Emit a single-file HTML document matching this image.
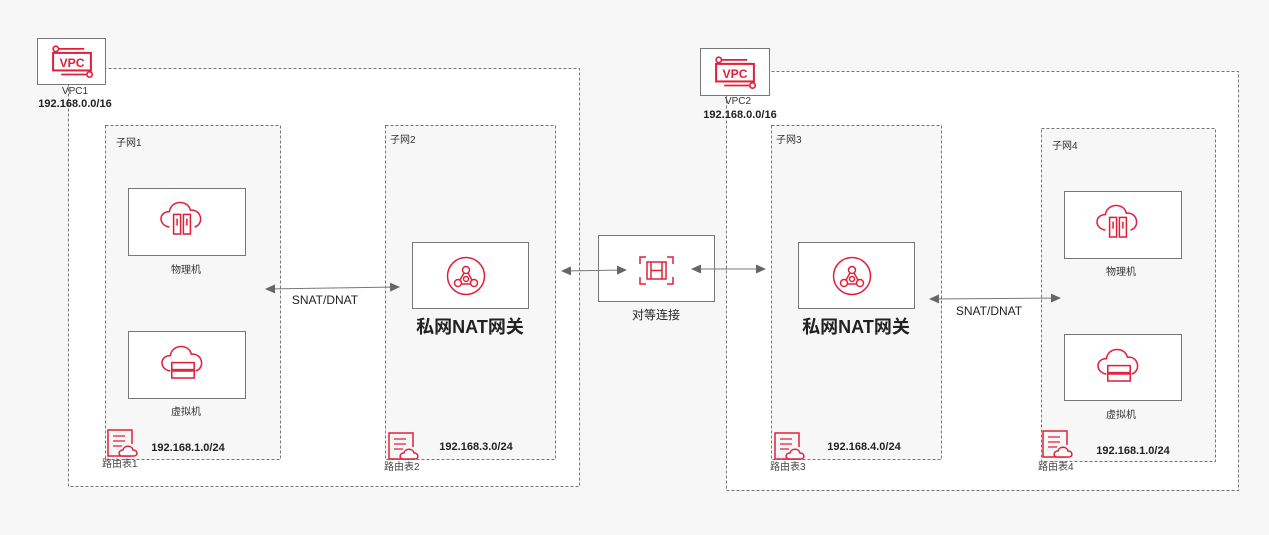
<!DOCTYPE html>
<html><head><meta charset="utf-8"><style>
html,body{margin:0;padding:0;background:#f7f7f7;}
svg{display:block;font-family:"Liberation Sans","Noto Sans CJK SC",sans-serif;}
</style></head><body>
<svg width="1269" height="535" viewBox="0 0 1269 535" xmlns="http://www.w3.org/2000/svg">
<defs>
<marker id="ah" viewBox="0 0 10 10" refX="9" refY="5" markerWidth="10" markerHeight="10" orient="auto-start-reverse"><path d="M0,0.5 L10,5 L0,9.5 z" fill="#666"/></marker>
<g id="vpc"><path d="M-11,-9 H9" stroke="#e0203a" stroke-width="1.3" fill="none"/><circle cx="-12" cy="-9" r="2" fill="#fff" stroke="#e0203a" stroke-width="1.2"/>
<rect x="-14" y="-6" width="28" height="13" fill="none" stroke="#e0203a" stroke-width="1.5"/>
<text x="0" y="4.5" font-size="9" font-weight="bold" fill="#e0203a" text-anchor="middle">VPC</text>
<path d="M-8,10 H12" stroke="#e0203a" stroke-width="1.3"/><circle cx="13" cy="10" r="2" fill="#fff" stroke="#e0203a" stroke-width="1.2"/></g>
<g id="phy" fill="none" stroke="#e0203a" stroke-width="1.1"><path d="M-9,5 C-17,4 -17,-6 -9,-6 C-8,-14 4,-15 6,-7 C14,-8 16,3 9,5"/><rect x="-6" y="-4" width="5" height="14" fill="#fff"/><rect x="1" y="-4" width="5" height="14" fill="#fff"/><path d="M-3.5,-1v5M3.5,-1v5"/></g>
<g id="vm" fill="none" stroke="#e0203a" stroke-width="1.1"><path d="M-9,5 C-17,4 -17,-6 -9,-6 C-8,-14 4,-15 6,-7 C14,-8 16,3 9,5"/><rect x="-8" y="-1" width="16" height="5" fill="#fff"/><rect x="-8" y="5" width="16" height="5" fill="#fff"/></g>
<g id="nat" fill="none" stroke="#e0203a" stroke-width="1.5"><circle r="18.5"/><circle cx="0" cy="-6" r="3.5"/><circle cx="-8" cy="7" r="3.5"/><circle cx="8" cy="7" r="3.5"/><circle cx="0" cy="3" r="2.5"/><path d="M-2,-3 L-6,4M2,-3L6,4M-4,8H4"/></g>
<g id="rt" fill="none" stroke="#e0203a" stroke-width="1.5"><path d="M10,20 V26 H-12 V0 H12 V14"/><path d="M-7,6H5M-7,11H5M-7,16H2" stroke-width="1.2"/><path d="M2,26 C-2,26 -2,20 3,20 C4,15 12,15 13,20 C18,20 18,26 14,26 Z" fill="#fff"/></g>
</defs>

<rect x="68.5" y="68.5" width="511" height="418" fill="#fff" stroke="#777" stroke-dasharray="3,2"/>
<rect x="726.5" y="71.5" width="512" height="419" fill="#fff" stroke="#777" stroke-dasharray="3,2"/>

<rect x="105.5" y="125.5" width="175" height="334" fill="#f7f7f7" stroke="#777" stroke-dasharray="3,2"/>
<rect x="385.5" y="125.5" width="170" height="334" fill="#f7f7f7" stroke="#777" stroke-dasharray="3,2"/>
<rect x="771.5" y="125.5" width="170" height="334" fill="#f7f7f7" stroke="#777" stroke-dasharray="3,2"/>
<rect x="1041.5" y="128.5" width="174" height="333" fill="#f7f7f7" stroke="#777" stroke-dasharray="3,2"/>

<rect x="37.5" y="38.5" width="68" height="46" fill="#fff" stroke="#777"/><use href="#vpc" transform="translate(72,61) scale(1.35)"/>
<text x="75" y="94" font-size="10" fill="#333" text-anchor="middle">VPC1</text>
<text x="75" y="107" font-size="11" font-weight="bold" fill="#222" text-anchor="middle">192.168.0.0/16</text>
<rect x="700.5" y="48.5" width="69" height="47" fill="#fff" stroke="#777"/><use href="#vpc" transform="translate(735,72) scale(1.35)"/>
<text x="738" y="104" font-size="10" fill="#333" text-anchor="middle">VPC2</text>
<text x="740" y="118" font-size="11" font-weight="bold" fill="#222" text-anchor="middle">192.168.0.0/16</text>

<g font-size="10" fill="#333">
<text x="116" y="146">子网1</text><text x="390" y="143">子网2</text><text x="776" y="143">子网3</text><text x="1052" y="149">子网4</text>
</g>

<rect x="128.5" y="188.5" width="117" height="67" fill="#fff" stroke="#777"/><use href="#phy" transform="translate(182,220) scale(1.4)"/>
<text x="186" y="273" font-size="10" fill="#333" text-anchor="middle">物理机</text>
<rect x="128.5" y="331.5" width="117" height="67" fill="#fff" stroke="#777"/><use href="#vm" transform="translate(183,364) scale(1.4)"/>
<text x="186" y="415" font-size="10" fill="#333" text-anchor="middle">虚拟机</text>
<rect x="1064.5" y="191.5" width="117" height="67" fill="#fff" stroke="#777"/><use href="#phy" transform="translate(1118,223) scale(1.4)"/>
<text x="1121" y="275" font-size="10" fill="#333" text-anchor="middle">物理机</text>
<rect x="1064.5" y="334.5" width="117" height="66" fill="#fff" stroke="#777"/><use href="#vm" transform="translate(1119,367) scale(1.4)"/>
<text x="1121" y="418" font-size="10" fill="#333" text-anchor="middle">虚拟机</text>

<rect x="412.5" y="242.5" width="116" height="66" fill="#fff" stroke="#777"/><use href="#nat" x="466" y="276"/>
<text x="470" y="333" font-size="18" font-weight="bold" fill="#222" text-anchor="middle">私网NAT网关</text>
<rect x="798.5" y="242.5" width="116" height="66" fill="#fff" stroke="#777"/><use href="#nat" x="852" y="276"/>
<text x="856" y="333" font-size="18" font-weight="bold" fill="#222" text-anchor="middle">私网NAT网关</text>

<rect x="598.5" y="235.5" width="116" height="66" fill="#fff" stroke="#777"/>
<g fill="none" stroke="#e0203a" stroke-width="1.5"><path d="M640,264v-7h6M673,264v-7h-6M640,277v7h6M673,277v7h-6"/><rect x="647" y="262" width="19" height="17"/><path d="M651,262v17M662,262v17M651,270.5h11"/></g>
<text x="656" y="319" font-size="12" fill="#222" text-anchor="middle">对等连接</text>

<g stroke="#777" stroke-width="1" fill="none">
<line x1="266" y1="289" x2="399" y2="287" marker-start="url(#ah)" marker-end="url(#ah)"/>
<line x1="562" y1="271" x2="626" y2="270" marker-start="url(#ah)" marker-end="url(#ah)"/>
<line x1="692" y1="269" x2="765" y2="269" marker-start="url(#ah)" marker-end="url(#ah)"/>
<line x1="930" y1="299" x2="1060" y2="298" marker-start="url(#ah)" marker-end="url(#ah)"/>
</g>
<text x="325" y="304" font-size="12" fill="#222" text-anchor="middle">SNAT/DNAT</text>
<text x="989" y="315" font-size="12" fill="#222" text-anchor="middle">SNAT/DNAT</text>

<use href="#rt" x="120" y="430"/><use href="#rt" x="401" y="433"/><use href="#rt" x="787" y="433"/><use href="#rt" x="1055" y="431"/>
<g font-size="10" fill="#444">
<text x="102" y="467">路由表1</text><text x="384" y="470">路由表2</text><text x="770" y="470">路由表3</text><text x="1038" y="470">路由表4</text>
</g>
<g font-size="11" font-weight="bold" fill="#222" text-anchor="middle">
<text x="188" y="451">192.168.1.0/24</text><text x="476" y="450">192.168.3.0/24</text>
<text x="864" y="450">192.168.4.0/24</text><text x="1133" y="454">192.168.1.0/24</text>
</g>
</svg>
</body></html>
